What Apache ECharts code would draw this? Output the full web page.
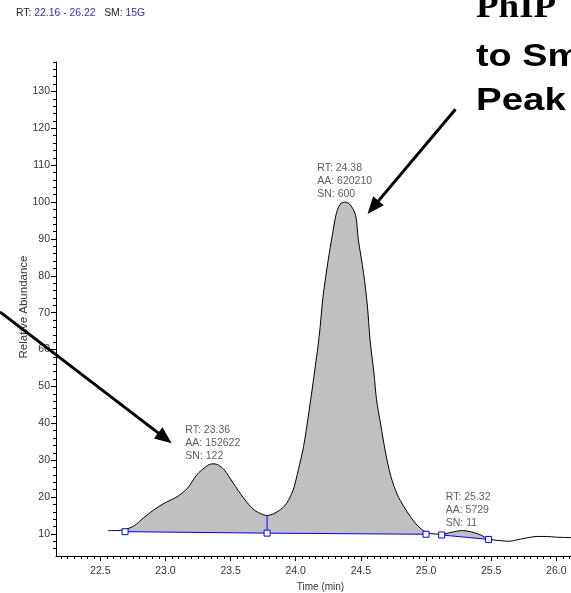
<!DOCTYPE html>
<html>
<head>
<meta charset="utf-8">
<script src="https://cdn.jsdelivr.net/npm/echarts@6/dist/echarts.min.js"></script>
<style>
  html, body { margin: 0; padding: 0; background: #fff; }
  #chart { width: 571px; height: 593px; }
</style>
</head>
<body>
<div id="chart"></div>
<script>
// Chromatogram trace: retention time (min) and relative abundance
const traceTime = [22.56, 22.63, 22.69, 22.76, 22.83, 22.91, 22.99, 23.09, 23.17, 23.24,
  23.32, 23.36, 23.40, 23.45, 23.52, 23.60, 23.68, 23.75, 23.78, 23.82,
  23.88, 23.93, 23.98, 24.02, 24.06, 24.10, 24.14, 24.18, 24.21, 24.25,
  24.28, 24.31, 24.34, 24.38, 24.42, 24.46, 24.48, 24.52, 24.55, 24.57,
  24.60, 24.62, 24.65, 24.69, 24.73, 24.78, 24.83, 24.88, 24.93, 25.00,
  25.06, 25.12, 25.19, 25.28, 25.34, 25.42, 25.48, 25.56, 25.64, 25.70,
  25.77, 25.85, 25.93, 26.00, 26.11, 26.22];
const traceAbundance = [10.9, 10.9, 11.2, 12.2, 14.3, 16.5, 18.3, 20.1, 22.4, 26.0,
  28.5, 29.0, 28.8, 27.4, 23.8, 19.7, 16.5, 15.2, 15.0, 15.3,
  16.5, 18.3, 21.9, 27.4, 33.7, 42.8, 52.8, 63.6, 74.5, 84.5,
  90.8, 96.7, 99.4, 100.0, 99.2, 96.3, 89.9, 80.9, 71.8, 62.7,
  53.7, 46.4, 40.1, 31.9, 25.6, 20.6, 17.4, 14.7, 12.4, 10.4,
  10.0, 9.9, 10.4, 10.9, 10.6, 9.7, 8.6, 8.2, 8.0, 8.4,
  8.9, 9.3, 9.3, 9.1, 9.0, 8.9];

// Integration baselines (peak start / split / end points)
const baseTimeA = [22.69, 23.78, 25.00];
const baseAbundA = [10.6, 10.2, 9.9];
const baseTimeB = [25.12, 25.48];
const baseAbundB = [9.7, 8.5];

// Valley drop line between the two first peaks
const dropTime = [23.78, 23.78];
const dropAbund = [10.2, 15.0];

// Peak annotations
const peakRT = [23.36, 24.38, 25.32];
const peakApex = [29.0, 100.0, 10.8];
const peakAA = [152622, 620210, 5729];
const peakSN = [122, 600, 11];

// Axis ranges and tick labels
const xMin = 22.16, xMax = 26.22;
const yMin = 4, yMax = 138;
const xTickLabels = [22.5, 23.0, 23.5, 24.0, 24.5, 25.0, 25.5, 26.0];
const yTickLabels = [10, 20, 30, 40, 50, 60, 70, 80, 90, 100, 110, 120, 130];
const smoothingLabel = '15G';

// Call-out arrows (tail, head) in time / abundance units
const arrowTail = [[21.73, 70.2], [25.226, 125.2]];
const arrowHead = [[23.048, 34.6], [24.551, 96.8]];

const FONT = '"Liberation Sans", Arial, Helvetica, sans-serif';
const SERIF = '"Liberation Serif", "Times New Roman", serif';
const SMOOTH = 0.3;

const xMinor = [];
for (let i = 444; i <= 524; i++) xMinor.push(i / 20);
const yMinor = [];
for (let v = 6; v <= 138; v += 2) yMinor.push(v);

const zip = (a, b) => a.map((v, i) => [v, b[i]]);
const traceData = zip(traceTime, traceAbundance);
const areaFloor = Math.min.apply(null, baseAbundA.concat(baseAbundB));

// highest trace value inside a time window (used to mask the non-integrated parts)
function traceMaxIn(t0, t1) {
  let m = -Infinity;
  traceTime.forEach((t, i) => { if (t >= t0 && t <= t1) m = Math.max(m, traceAbundance[i]); });
  return (m === -Infinity ? areaFloor : m) + 1;
}

const chart = echarts.init(document.getElementById('chart'), null, { renderer: 'canvas' });

const axisCommon = { type: 'value', splitLine: { show: false } };

const option = {
  animation: false,
  backgroundColor: '#fff',
  grid: { left: 56, top: 62, right: -14, bottom: 37, containLabel: false, outerBoundsMode: 'none' },
  xAxis: [
    Object.assign({}, axisCommon, {
      min: xMin, max: xMax, position: 'bottom',
      name: 'Time (min)', nameLocation: 'middle', nameGap: 25,
      nameTextStyle: { fontFamily: FONT, fontSize: 10, color: '#333' },
      axisLine: { show: true, onZero: false, lineStyle: { color: '#000', width: 1 } },
      axisTick: { show: true, customValues: xTickLabels, length: 5, lineStyle: { color: '#000', width: 1 } },
      axisLabel: { show: true, customValues: xTickLabels, formatter: v => v.toFixed(1), margin: 10,
        fontFamily: FONT, fontSize: 10.5, color: '#333' }
    }),
    Object.assign({}, axisCommon, {
      min: xMin, max: xMax, position: 'bottom',
      axisLine: { show: false, onZero: false },
      axisTick: { show: true, customValues: xMinor, length: 3, lineStyle: { color: '#000', width: 1 } },
      axisLabel: { show: false }
    })
  ],
  yAxis: [
    Object.assign({}, axisCommon, {
      min: yMin, max: yMax, position: 'left',
      axisLine: { show: true, onZero: false, lineStyle: { color: '#000', width: 1 } },
      axisTick: { show: true, customValues: yTickLabels, length: 5, lineStyle: { color: '#000', width: 1 } },
      axisLabel: { show: true, customValues: yTickLabels, margin: 6,
        fontFamily: FONT, fontSize: 10.5, color: '#333' }
    }),
    Object.assign({}, axisCommon, {
      min: yMin, max: yMax, position: 'left',
      axisLine: { show: false, onZero: false },
      axisTick: { show: true, customValues: yMinor, length: 3, lineStyle: { color: '#000', width: 1 } },
      axisLabel: { show: false }
    })
  ],
  series: [
    {
      // grey fill under the smoothed trace
      type: 'line',
      name: 'trace area',
      xAxisIndex: 0, yAxisIndex: 0,
      z: 1,
      data: traceData,
      smooth: SMOOTH,
      showSymbol: false, symbol: 'none',
      lineStyle: { width: 0, opacity: 0 },
      areaStyle: { color: '#c0c0c0', opacity: 1, origin: areaFloor }
    },
    {
      // white mask: keeps the grey only between trace and integration baselines
      type: 'custom',
      name: 'baseline mask',
      xAxisIndex: 0, yAxisIndex: 0,
      z: 2,
      silent: true,
      data: [[traceTime[0], areaFloor]],
      renderItem: function (params, api) {
        const lo = areaFloor - 0.6;
        const t0 = traceTime[0];
        const segA = zip(baseTimeA, baseAbundA);
        const segB = zip(baseTimeB, baseAbundB);
        const g1 = traceMaxIn(t0, segA[0][0]);
        const g2 = traceMaxIn(segA[segA.length - 1][0], segB[0][0]);
        const g3 = traceMaxIn(segB[segB.length - 1][0], xMax);
        const pts = [[t0, lo], [t0, g1], [segA[0][0], g1]]
          .concat(segA)
          .concat([[segA[segA.length - 1][0], g2], [segB[0][0], g2]])
          .concat(segB)
          .concat([[segB[segB.length - 1][0], g3], [xMax, g3], [xMax, lo]]);
        return { type: 'polygon', shape: { points: pts.map(p => api.coord(p)) },
          style: { fill: '#fff', stroke: null } };
      }
    },
    {
      type: 'line',
      name: 'trace',
      xAxisIndex: 0, yAxisIndex: 0,
      z: 3,
      data: traceData,
      smooth: SMOOTH,
      showSymbol: false, symbol: 'none',
      lineStyle: { color: '#000', width: 1 }
    },
    {
      type: 'line',
      name: 'baseline',
      xAxisIndex: 0, yAxisIndex: 0,
      z: 4,
      data: zip(baseTimeA, baseAbundA),
      symbol: 'rect', symbolSize: 6, showSymbol: true,
      itemStyle: { color: '#fff', borderColor: '#0000ff', borderWidth: 1 },
      lineStyle: { color: '#0000ff', width: 1 }
    },
    {
      type: 'line',
      name: 'baseline 2',
      xAxisIndex: 0, yAxisIndex: 0,
      z: 4,
      data: zip(baseTimeB, baseAbundB),
      symbol: 'rect', symbolSize: 6, showSymbol: true,
      itemStyle: { color: '#fff', borderColor: '#0000ff', borderWidth: 1 },
      lineStyle: { color: '#0000ff', width: 1 }
    },
    {
      type: 'line',
      name: 'drop',
      xAxisIndex: 0, yAxisIndex: 0,
      z: 3,
      data: zip(dropTime, dropAbund),
      symbol: 'none', showSymbol: false,
      lineStyle: { color: '#0000ff', width: 1 }
    },
    {
      type: 'scatter',
      name: 'peak labels',
      xAxisIndex: 0, yAxisIndex: 0,
      z: 5,
      symbolSize: 1,
      itemStyle: { color: 'rgba(0,0,0,0)' },
      data: peakRT.map((t, i) => ({
        value: [t, peakApex[i]],
        label: { offset: [[-27, 0], [-28, 0], [-22, 0]][i] }
      })),
      label: {
        show: true, position: 'top', distance: 1, align: 'left', verticalAlign: 'bottom',
        lineHeight: 13, fontFamily: FONT, fontSize: 10.5, color: '#333',
        formatter: p => {
          const i = p.dataIndex;
          return 'RT: ' + peakRT[i].toFixed(2) + '\nAA: ' + peakAA[i] + '\nSN: ' + peakSN[i];
        }
      }
    }
  ]
};

chart.setOption(option);

// annotations drawn on top of the plot
const toPx = p => chart.convertToPixel({ xAxisIndex: 0, yAxisIndex: 0 }, p);

function arrow(tail, head) {
  const a = toPx(tail), b = toPx(head);
  const dx = b[0] - a[0], dy = b[1] - a[1];
  const L = Math.hypot(dx, dy);
  const ux = dx / L, uy = dy / L, nx = -uy, ny = ux;
  const headLen = 17, half = 7;
  const base = [b[0] - ux * headLen, b[1] - uy * headLen];
  return [
    { type: 'line', z: 100, shape: { x1: a[0], y1: a[1], x2: base[0] + ux * 2, y2: base[1] + uy * 2 },
      style: { stroke: '#000', lineWidth: 3 } },
    { type: 'polygon', z: 100,
      shape: { points: [b, [base[0] + nx * half, base[1] + ny * half], [base[0] - nx * half, base[1] - ny * half]] },
      style: { fill: '#000' } }
  ];
}

const elements = [
  {
    type: 'text', x: 16, y: 13.5, z: 100,
    style: {
      text: '{k|RT: }{v|' + xMin.toFixed(2) + ' - ' + xMax.toFixed(2) + '}{k|   SM: }{v|' + smoothingLabel + '}',
      verticalAlign: 'middle', align: 'left',
      rich: {
        k: { fontFamily: FONT, fontSize: 10.4, fill: '#222' },
        v: { fontFamily: FONT, fontSize: 10.4, fill: '#3333aa' }
      }
    }
  },
  {
    type: 'text', x: 24, y: 307, rotation: Math.PI / 2, z: 100,
    style: { text: 'Relative Abundance', fontFamily: FONT, fontSize: 11.5, fill: '#333',
      align: 'center', verticalAlign: 'middle' }
  },
  {
    type: 'text', x: 476, y: 8, scaleX: 1.12, z: 100,
    style: { text: 'PhIP', fontFamily: SERIF, fontWeight: 'bold', fontSize: 33, fill: '#000',
      align: 'left', verticalAlign: 'middle' }
  },
  {
    type: 'text', x: 476, y: 57, scaleX: 1.22, z: 100,
    style: { text: 'to Sm', fontFamily: FONT, fontWeight: 'bold', fontSize: 31, fill: '#000',
      align: 'left', verticalAlign: 'middle' }
  },
  {
    type: 'text', x: 476, y: 101, scaleX: 1.24, z: 100,
    style: { text: 'Peak', fontFamily: FONT, fontWeight: 'bold', fontSize: 31, fill: '#000',
      align: 'left', verticalAlign: 'middle' }
  }
].concat(arrow(arrowTail[0], arrowHead[0]), arrow(arrowTail[1], arrowHead[1]));

chart.setOption({ graphic: { elements: elements } });
</script>
</body>
</html>
